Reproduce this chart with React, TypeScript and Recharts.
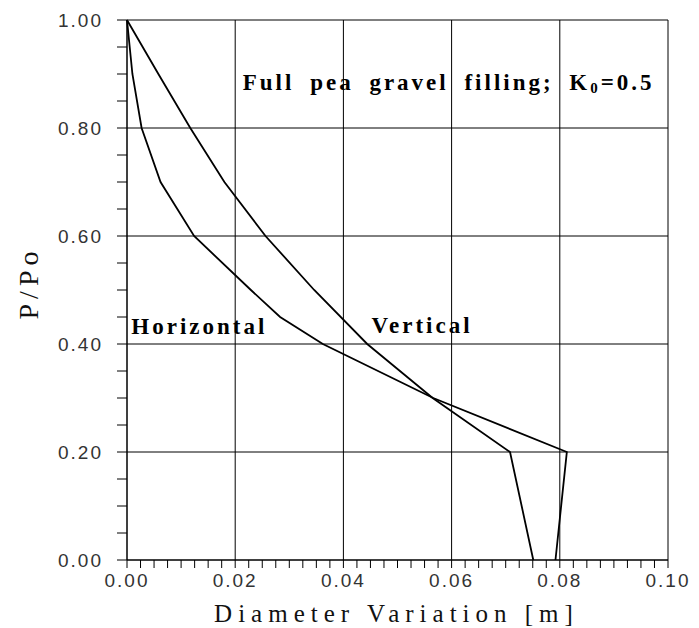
import React from 'react';
import { LineChart, Line, XAxis, YAxis, ReferenceLine, ReferenceDot } from 'recharts';

// Full pea gravel filling, K0 = 0.5 : diameter variation [m] vs P/Po
const horizontalD = [0, 0.001, 0.0027, 0.0062, 0.0124, 0.0229, 0.0283, 0.0362, 0.0566, 0.0813, 0.0792];
const horizontalP = [1.0, 0.9, 0.8, 0.7, 0.6, 0.5, 0.45, 0.4, 0.3, 0.2, 0.0];
const verticalD = [0, 0.0058, 0.0117, 0.018, 0.0256, 0.0346, 0.0444, 0.0565, 0.0708, 0.0751];
const verticalP = [1.0, 0.9, 0.8, 0.7, 0.6, 0.5, 0.4, 0.3, 0.2, 0.0];

const xMajor = [0, 0.02, 0.04, 0.06, 0.08, 0.1];
const xMajorLabels = ['0.00', '0.02', '0.04', '0.06', '0.08', '0.10'];
const yMajor = [0, 0.2, 0.4, 0.6, 0.8, 1.0];
const yMajorLabels = ['0.00', '0.20', '0.40', '0.60', '0.80', '1.00'];

const xMinorStep = 0.0025;
const yMinorStep = 0.05;

const toRows = (d: number[], p: number[]) => d.map((v, i) => ({ d: v, p: p[i] }));
const horizontalRows = toRows(horizontalD, horizontalP);
const verticalRows = toRows(verticalD, verticalP);

const xTicks: number[] = [];
for (let i = 0; i <= 40; i++) xTicks.push(+(i * xMinorStep).toFixed(4));
const yTicks: number[] = [];
for (let i = 0; i <= 20; i++) yTicks.push(+(i * yMinorStep).toFixed(2));

const majorIndex = (v: number, majors: number[]) => majors.findIndex((m) => Math.abs(m - v) < 1e-6);

const SERIF = '"Liberation Serif", "DejaVu Serif", "Times New Roman", serif';
const tickStyle: React.CSSProperties = { fontFamily: '"Liberation Sans", Arial, sans-serif', fontSize: 19, letterSpacing: 2 };
const titleStyle: React.CSSProperties = { fontFamily: SERIF, fontSize: 25, letterSpacing: 6 };
const noteStyle: React.CSSProperties = { fontFamily: SERIF, fontSize: 23, fontWeight: 700, letterSpacing: 3, wordSpacing: 7 };

const XTick = ({ x, y, payload }: any) => {
  const i = majorIndex(payload.value, xMajor);
  if (i < 0) return <g />;
  return (
    <text x={x} y={y} dy={17} textAnchor="middle" fill="#333" style={tickStyle}>
      {xMajorLabels[i]}
    </text>
  );
};

const YTick = ({ x, y, payload }: any) => {
  const i = majorIndex(payload.value, yMajor);
  if (i < 0) return <g />;
  return (
    <text x={x} y={y} dy={7} textAnchor="end" fill="#333" style={tickStyle}>
      {yMajorLabels[i]}
    </text>
  );
};

const note = (text: React.ReactNode) => ({ viewBox }: any) => (
  <text x={viewBox.x} y={viewBox.y} textAnchor="start" fill="#000" style={noteStyle}>
    {text}
  </text>
);

export default function App() {
  return (
    <div style={{ position: 'absolute', left: 0, top: 0, background: '#fff' }}>
      <LineChart width={699} height={628} margin={{ top: 20, right: 31, bottom: 0, left: 0 }}>
        <XAxis
          dataKey="d"
          type="number"
          domain={[0, 0.1]}
          ticks={xTicks}
          interval={0}
          height={68}
          tickSize={8}
          tickMargin={2}
          tick={XTick}
          axisLine={{ stroke: '#000' }}
          tickLine={{ stroke: '#000' }}
          label={{
            content: ({ viewBox }: any) => (
              <text x={viewBox.x + viewBox.width / 2 - 1} y={viewBox.y + 62} textAnchor="middle" fill="#111" style={titleStyle}>
                Diameter Variation [m]
              </text>
            ),
          }}
        />
        <YAxis
          type="number"
          domain={[0, 1]}
          ticks={yTicks}
          interval={0}
          width={127}
          tickSize={10}
          tickMargin={14}
          tick={YTick}
          axisLine={{ stroke: '#000' }}
          tickLine={{ stroke: '#000' }}
          label={{
            content: ({ viewBox }: any) => (
              <text
                transform={`translate(${viewBox.x + 38}, ${viewBox.y + viewBox.height / 2 - 7}) rotate(-90)`}
                textAnchor="middle"
                fill="#111"
                style={{ ...titleStyle, fontSize: 28, letterSpacing: 5 }}
              >
                P/Po
              </text>
            ),
          }}
        />

        {xMajor.map((v) => (
          <ReferenceLine key={`x${v}`} x={v} stroke="#000" strokeWidth={1} />
        ))}
        {yMajor.map((v) => (
          <ReferenceLine key={`y${v}`} y={v} stroke="#000" strokeWidth={1} />
        ))}

        <Line
          data={horizontalRows}
          dataKey="p"
          type="linear"
          stroke="#000"
          strokeWidth={1.8}
          dot={false}
          isAnimationActive={false}
        />
        <Line
          data={verticalRows}
          dataKey="p"
          type="linear"
          stroke="#000"
          strokeWidth={1.8}
          dot={false}
          isAnimationActive={false}
        />

        <ReferenceDot
          x={0.0214}
          y={0.87}
          r={0}
          fill="none"
          stroke="none"
          label={{
            content: note(
              <>
                Full pea gravel filling; K
                <tspan fontSize={15} dy={3}>0</tspan>
                <tspan dy={-3}>=0.5</tspan>
              </>
            ),
          }}
        />
        <ReferenceDot x={0.0008} y={0.418} r={0} fill="none" stroke="none" label={{ content: note('Horizontal') }} />
        <ReferenceDot x={0.0452} y={0.42} r={0} fill="none" stroke="none" label={{ content: note('Vertical') }} />
      </LineChart>
    </div>
  );
}
